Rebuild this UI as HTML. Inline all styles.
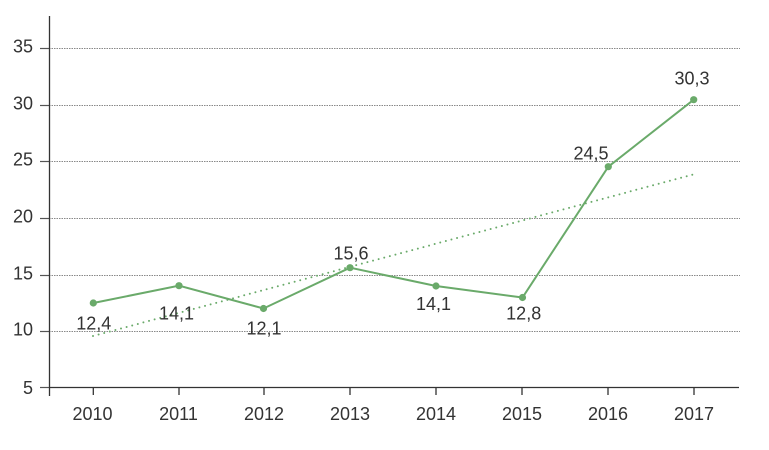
<!DOCTYPE html>
<html><head><meta charset="utf-8"><style>
html,body{margin:0;padding:0;background:#fff;}
svg{display:block;}
text{font-family:"Liberation Sans",sans-serif;font-size:18px;fill:#333;}
</style></head><body>
<svg width="769" height="450" viewBox="0 0 769 450" xmlns="http://www.w3.org/2000/svg">
<g stroke="#888" stroke-width="1" stroke-dasharray="1.5,1">
<line x1="49" y1="48.5" x2="740" y2="48.5"/>
<line x1="49" y1="105.5" x2="740" y2="105.5"/>
<line x1="49" y1="161.5" x2="740" y2="161.5"/>
<line x1="49" y1="218.5" x2="740" y2="218.5"/>
<line x1="49" y1="275.5" x2="740" y2="275.5"/>
<line x1="49" y1="331.5" x2="740" y2="331.5"/>
</g>
<g stroke="#555" stroke-width="1.2">
<line x1="40" y1="48.5" x2="49" y2="48.5"/>
<line x1="40" y1="105.5" x2="49" y2="105.5"/>
<line x1="40" y1="161.5" x2="49" y2="161.5"/>
<line x1="40" y1="218.5" x2="49" y2="218.5"/>
<line x1="40" y1="275.5" x2="49" y2="275.5"/>
<line x1="40" y1="331.5" x2="49" y2="331.5"/>
<line x1="40" y1="387.5" x2="49" y2="387.5"/>
</g>
<g stroke="#333" stroke-width="1.3">
<line x1="49.5" y1="16" x2="49.5" y2="396"/>
<line x1="49" y1="387.5" x2="739" y2="387.5"/>
<line x1="93.3" y1="387.5" x2="93.3" y2="395"/>
<line x1="179" y1="387.5" x2="179" y2="395"/>
<line x1="264" y1="387.5" x2="264" y2="395"/>
<line x1="350" y1="387.5" x2="350" y2="395"/>
<line x1="436" y1="387.5" x2="436" y2="395"/>
<line x1="522" y1="387.5" x2="522" y2="395"/>
<line x1="608" y1="387.5" x2="608" y2="395"/>
<line x1="694" y1="387.5" x2="694" y2="395"/>
</g>
<g text-anchor="end">
<text x="33" y="52.5">35</text>
<text x="33" y="109.5">30</text>
<text x="33" y="165.5">25</text>
<text x="33" y="222.5">20</text>
<text x="33" y="279.5">15</text>
<text x="33" y="335.5">10</text>
<text x="33" y="394">5</text>
</g>
<g text-anchor="middle">
<text x="92.5" y="420">2010</text>
<text x="178.5" y="420">2011</text>
<text x="264" y="420">2012</text>
<text x="350" y="420">2013</text>
<text x="436" y="420">2014</text>
<text x="522" y="420">2015</text>
<text x="608" y="420">2016</text>
<text x="694" y="420">2017</text>
</g>
<line x1="93" y1="336" x2="695" y2="174" stroke="#6aaa6a" stroke-width="2" stroke-dasharray="0,5.8" stroke-linecap="round"/>
<polyline fill="none" stroke="#6aaa6a" stroke-width="2" points="93.3,303 179,285.7 263.5,308.5 350,267.7 436,286 522.5,297.5 608.3,166.7 693.7,99.7"/>
<g fill="#6aaa6a">
<circle cx="93.3" cy="303" r="3.6"/>
<circle cx="179" cy="285.7" r="3.6"/>
<circle cx="263.5" cy="308.5" r="3.6"/>
<circle cx="350" cy="267.7" r="3.6"/>
<circle cx="436" cy="286" r="3.6"/>
<circle cx="522.5" cy="297.5" r="3.6"/>
<circle cx="608.3" cy="166.7" r="3.6"/>
<circle cx="693.7" cy="99.7" r="3.6"/>
</g>
<g text-anchor="middle">
<text x="93.8" y="329.5">12,4</text>
<text x="176.5" y="319.3">14,1</text>
<text x="264" y="334.5">12,1</text>
<text x="351" y="259.3">15,6</text>
<text x="433.5" y="310">14,1</text>
<text x="523.7" y="319.3">12,8</text>
<text x="591" y="159.3">24,5</text>
<text x="692" y="84.3">30,3</text>
</g>
</svg>
</body></html>
